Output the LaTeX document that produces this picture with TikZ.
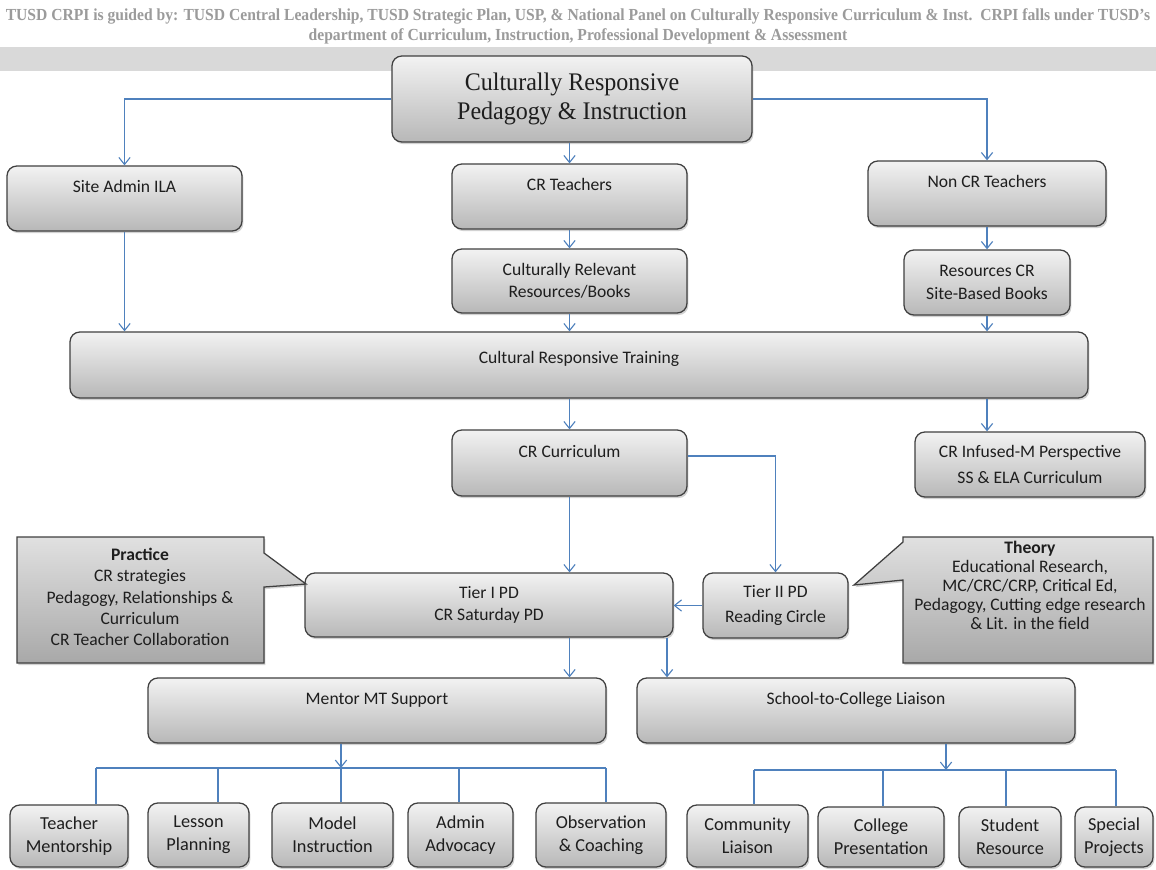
\documentclass[tikz,border=0pt]{standalone}
\usepackage{fontspec}
\setmainfont{Carlito}
\newfontfamily\headfont[FakeStretch=0.95]{Liberation Serif}
\newfontfamily\titlefont[FakeStretch=0.925]{Liberation Serif}
\usetikzlibrary{arrows.meta,shadows,positioning}
\definecolor{linkblue}{RGB}{79,129,189}
\definecolor{boxline}{RGB}{64,64,64}
\definecolor{titlegray}{RGB}{155,155,155}
\definecolor{bandgray}{RGB}{217,217,217}
\definecolor{boxtext}{RGB}{30,30,30}

\begin{document}
\begin{tikzpicture}
  [x=0.025cm,y=-0.025cm,
   font=\fontsize{12.5}{16}\selectfont,
   crbox/.style={draw=boxline,line width=0.9pt,rounded corners=7pt,text=boxtext,
     top color=black!5,bottom color=black!28,align=center,inner sep=1pt,
     drop shadow={shadow xshift=1pt,shadow yshift=-1.5pt,opacity=0.35}},
   bx/.style 2 args={minimum width=#1*0.025cm,minimum height=#2*0.025cm},
   toptxt/.style={text height=9pt,text depth=#1},
   toptxt/.default=17pt,
   notebox/.style={draw=boxline,line width=0.9pt,top color=black!12,bottom color=black!34,
     drop shadow={shadow xshift=1pt,shadow yshift=-1.5pt,opacity=0.35}},
   arr/.style={draw=linkblue,line width=0.8pt,-{Straight Barb[length=5pt,width=8pt]}},
   link/.style={draw=linkblue,line width=0.8pt}]
  \useasboundingbox[fill=white] (0,0) rectangle (1156,869);

  \node[font=\titlefont\bfseries\fontsize{12}{14}\selectfont,text=titlegray] (head1) at (578,16)
    {TUSD CRPI is guided by: TUSD Central Leadership, TUSD Strategic Plan, USP, \& National Panel on Culturally Responsive Curriculum \& Inst.\ \ CRPI falls under TUSD’s};
  \node[font=\titlefont\bfseries\fontsize{12}{14}\selectfont,text=titlegray] (head2) at (578,36)
    {department of Curriculum, Instruction, Professional Development \& Assessment};
  \fill[bandgray] (0,47) rectangle (1156,71);

  \node[crbox,bx={360}{86},font=\headfont\fontsize{18}{21}\selectfont] (crpi) at (572,99)
    {Culturally Responsive\\Pedagogy \& Instruction};
  \node[crbox,bx={235}{65},toptxt] (siteadmin) at (124.5,198.5) {Site Admin ILA};
  \node[crbox,bx={235}{65},toptxt] (crteach) at (569.5,196.5) {CR Teachers};
  \node[crbox,bx={238}{65},toptxt] (noncr) at (987,193.5) {Non CR Teachers};
  \node[crbox,bx={235}{64}] (relbooks) at (569.5,281) {Culturally Relevant\\Resources/Books};
  \node[crbox,bx={166}{65}] (sitebooks) at (987,282.5) {Resources CR\\Site-Based Books};
  \node[crbox,bx={1018}{66},toptxt=11pt] (training) at (579,365) {Cultural Responsive Training};
  \node[crbox,bx={230}{65},font=\fontsize{12.5}{18}\selectfont] (infused) at (1030,464.5)
    {CR Infused-M Perspective\\SS \& ELA Curriculum};
  \node[crbox,bx={235}{66},toptxt] (crcurr) at (569.5,463) {CR Curriculum};
  \node[crbox,bx={368}{64}] (tier1) at (489,605) {Tier I PD\\CR Saturday PD};
  \node[crbox,bx={145}{65},font=\fontsize{12.5}{17.5}\selectfont] (tier2) at (775.5,605.5) {Tier II PD\\Reading Circle};
  \node[crbox,bx={458}{65},toptxt] (mentor) at (377,710.5) {Mentor MT Support};
  \node[crbox,bx={438}{65},toptxt] (school) at (856,710.5) {School-to-College Liaison};

  % bottom row
  \begin{scope}[font=\fontsize{13}{16.3}\selectfont]
    \node[crbox,bx={118}{62}] (tmentor) at (69,836) {Teacher\\Mentorship};
    \node[crbox,bx={101}{64}] (lesson) at (198.5,835) {Lesson\\Planning};
    \node[crbox,bx={121}{64}] (model) at (332.5,835) {Model\\Instruction};
    \node[crbox,bx={105}{64}] (admin) at (460.5,835) {Admin\\Advocacy};
    \node[crbox,bx={130}{64}] (observ) at (601,835) {Observation\\\& Coaching};
    \node[crbox,bx={121}{62}] (community) at (747.5,836) {Community\\Liaison};
    \node[crbox,bx={126}{60}] (college) at (881,837) {College\\Presentation};
    \node[crbox,bx={102}{60}] (student) at (1010,837) {Student\\Resource};
    \node[crbox,bx={78}{60}] (special) at (1114,837) {Special\\Projects};
  \end{scope}

  % callouts
  \draw[notebox] (17,537) -- (264,537) -- (264,553) -- (306,584) -- (264,587) -- (264,663) -- (17,663) -- cycle;
  \node[align=center,text=boxtext,font=\fontsize{12.5}{15.2}\selectfont] (practice) at (140,597)
    {\textbf{Practice}\\CR strategies\\Pedagogy, Relationships \&\\Curriculum\\CR Teacher Collaboration};
  \draw[notebox] (903,537) -- (1153,537) -- (1153,663) -- (903,663) -- (903,580) -- (854,585) -- (903,542) -- cycle;
  \node[align=center,text=boxtext,font=\fontsize{12.5}{13.5}\selectfont] (theory) at (1030,585)
    {\textbf{Theory}\\Educational Research,\\MC/CRC/CRP, Critical Ed,\\Pedagogy, Cutting edge research\\\& Lit. in the field};

  \draw[arr] (crpi.west) -| (siteadmin.north);
  \draw[arr] (crpi.east) -| (noncr.north);
  \draw[arr] (crpi.south -| crteach.north) -- (crteach.north);
  \draw[arr] (crteach) -- (relbooks);
  \draw[arr] (relbooks.south) -- (relbooks.south |- training.north);
  \draw[arr] (siteadmin.south) -- (siteadmin.south |- training.north);
  \draw[arr] (noncr) -- (sitebooks);
  \draw[arr] (sitebooks.south) -- (sitebooks.south |- training.north);
  \draw[arr] (crcurr.north |- training.south) -- (crcurr.north);
  \draw[arr] (sitebooks.south |- training.south) -- (sitebooks.south |- infused.north);
  \draw[arr] (crcurr) -- (crcurr |- tier1.north);
  \draw[arr] ([yshift=5pt]crcurr.east) -| (tier2.north);
  \draw[arr] (tier2.west) -- (tier2.west -| tier1.east);
  \draw[arr] (crcurr.south |- tier1.south) -- (crcurr.south |- mentor.north);
  \coordinate (tosch) at (667,0);
  \draw[arr] (tosch |- tier1.south) -- (tosch |- school.north);

  \coordinate (mbus) at (341,768);
  \draw[arr] (mbus |- mentor.south) -- (mbus);
  \draw[link] (96,768) -- (606,768);
  \foreach \x/\n in {96/tmentor,218/lesson,341/model,459/admin,606/observ}
    \draw[link] (\x,768) -- (\x,768 |- \n.north);

  \coordinate (sbus) at (946,770);
  \draw[arr] (sbus |- school.south) -- (sbus);
  \draw[link] (754,770) -- (1116,770);
  \foreach \x/\n in {754/community,883/college,1006/student,1116/special}
    \draw[link] (\x,770) -- (\x,770 |- \n.north);
\end{tikzpicture}
\end{document}
